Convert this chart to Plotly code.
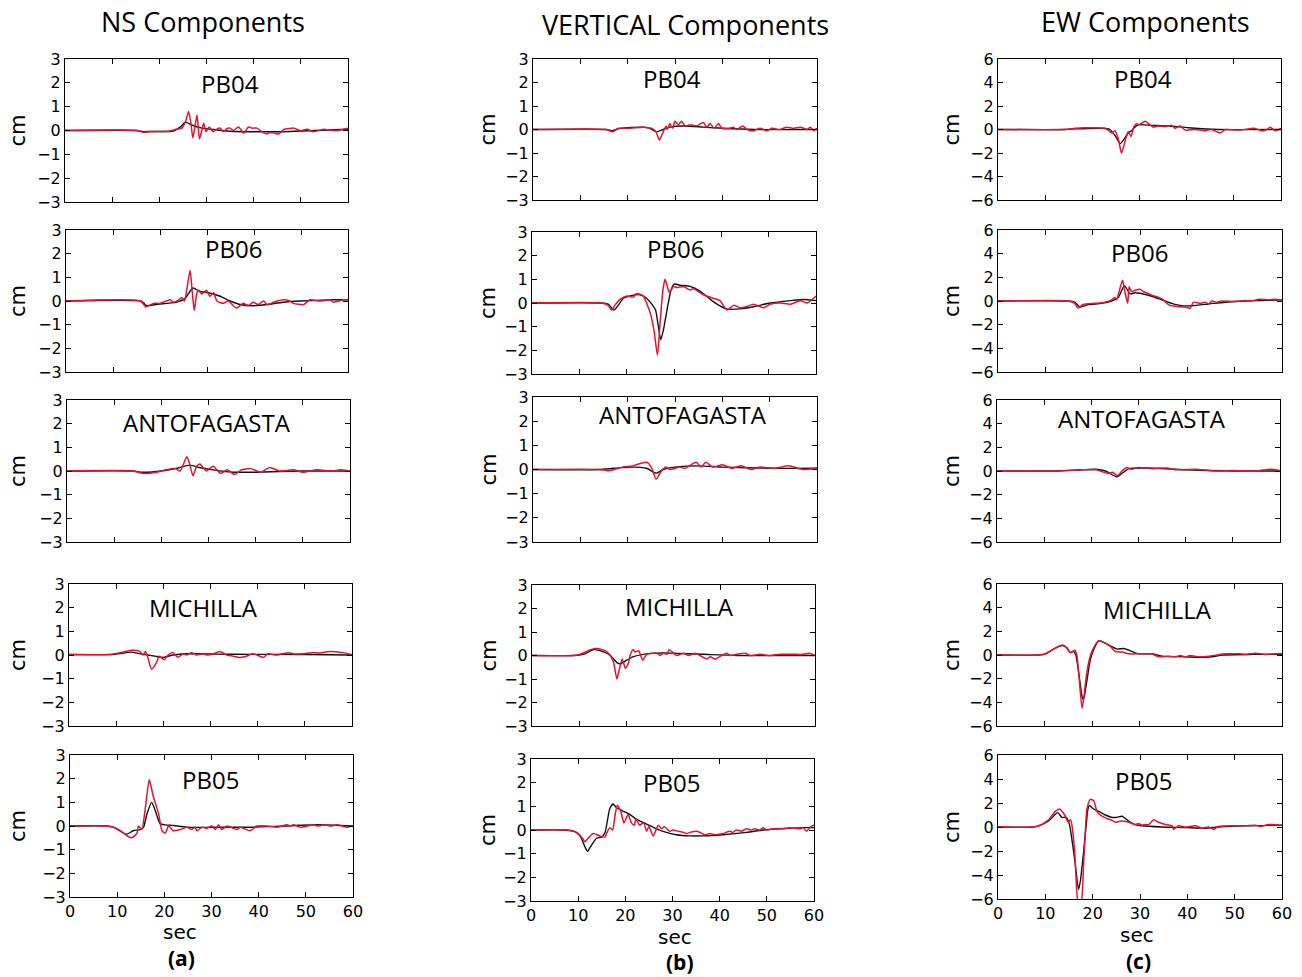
import plotly.graph_objects as go

W, H = 1302, 977
RED = '#e8112d'
BLACK = '#111111'

COMPONENTS = ['NS Components', 'VERTICAL Components', 'EW Components']
STATIONS = ['PB04', 'PB06', 'ANTOFAGASTA', 'MICHILLA', 'PB05']
PANEL_TAGS = ['(a)', '(b)', '(c)']
X_TICKS = [0, 10, 20, 30, 40, 50, 60]
Y_TICKS_SMALL = [-3, -2, -1, 0, 1, 2, 3]
Y_TICKS_EW = [-6, -4, -2, 0, 2, 4, 6]

# (time [sec], displacement [cm])

# ---- NS ----
NS_PB04_BLACK = [(0, 0), (15.2, 0), (16.6, -0.05), (18, -0.04), (23, -0.02), (24.5, 0.15), (25.5, 0.35),
                 (27, 0.22), (29, 0.1), (31.5, 0.04), (35, -0.03), (39, -0.05), (46, -0.05), (53, 0), (60, 0.05)]
NS_PB04_RED = [(0, 0), (15.2, 0), (16.6, -0.08), (18, -0.05), (22, -0.03), (23.5, 0.05), (24.8, 0.1), (25.6, 0.4),
               (26.2, 0.8), (26.7, 0.3), (27.1, -0.3), (27.5, 0.1), (28, 0.65), (28.5, -0.35), (29, 0.0), (29.4, 0.3),
               (29.9, -0.05), (30.6, 0.15), (31.4, -0.05), (32.1, 0.05), (32.9, 0.1), (33.6, -0.05), (34.3, 0.08),
               (35, 0.1), (35.7, 0.0), (36.8, 0.15), (37.9, -0.1), (38.9, 0.15), (39.7, 0.1), (40.7, 0.1),
               (41.7, -0.05), (42.8, -0.15), (43.5, -0.08), (44.2, -0.1), (45.3, -0.15), (46.4, 0.05), (47.5, 0.08),
               (48.5, 0.1), (49.9, 0.0), (51.3, 0.05), (52.7, -0.05), (54.9, 0.05), (56, 0.02), (57.7, 0.0),
               (59, 0.05), (60, 0.1)]
NS_PB06_BLACK = [(0, 0), (15.8, 0), (16.5, -0.08), (17.2, -0.2), (19, -0.15), (21.4, -0.1), (23.6, -0.05),
                 (25.3, 0.1), (27, 0.55), (28.5, 0.4), (30.3, 0.35), (32.8, 0.2), (34.9, 0.0), (37, -0.15),
                 (39.8, -0.2), (42.7, -0.15), (46.2, -0.05), (49.8, 0.0), (56.8, 0.05), (60, 0.05)]
NS_PB06_RED = [(0, 0), (15.8, 0), (17, -0.25), (18.6, -0.1), (20, -0.1), (21.4, 0.0), (22.1, 0.05), (22.9, -0.05),
               (24, 0.05), (24.6, 0.15), (25.2, 0.0), (25.8, 0.6), (26.4, 1.3), (26.9, 0.3), (27.3, -0.4),
               (27.8, 0.3), (28.2, 0.45), (28.9, 0.3), (29.9, 0.45), (30.6, 0.2), (31.4, 0.35), (32.1, 0.0),
               (33.5, -0.1), (34.5, 0.0), (35.6, -0.2), (36.3, -0.3), (37.7, -0.1), (38.8, -0.2), (39.8, -0.05),
               (40.9, -0.15), (42, 0.0), (42.8, -0.15), (44.2, -0.05), (46.2, 0.05), (47.6, 0.0), (48.4, -0.1),
               (50.6, -0.15), (51.9, 0.05), (54, 0.0), (56.1, 0.05), (56.9, -0.05), (59, 0.05), (60, 0.05)]
NS_ANTO_BLACK = [(0, 0), (14, 0), (16, -0.05), (20, 0.0), (23, 0.1), (26, 0.25), (28, 0.15), (31, 0.05),
                 (35, -0.05), (40, -0.05), (50, 0.0), (60, 0.0)]
NS_ANTO_RED = [(0, 0), (14, 0), (16, -0.1), (19, -0.05), (21, 0.05), (23, 0.1), (24, 0.0), (25.4, 0.6),
               (26, 0.3), (26.7, -0.2), (27.5, 0.2), (28.2, 0.3), (29.5, 0.0), (31, 0.2), (32.5, -0.1), (34, 0.05),
               (35.5, -0.15), (37, 0.05), (39, 0.1), (41, -0.05), (43, 0.15), (45, 0.0), (48, 0.05), (50, -0.05),
               (53, 0.05), (56, 0.0), (58, 0.05), (60, 0.0)]
NS_MICH_BLACK = [(0, 0.02), (9, 0.02), (11, 0.06), (13.1, 0.12), (15.2, 0.05), (18.2, -0.05), (20, -0.1),
                 (22.1, 0.0), (25, 0.05), (35, 0.03), (50, 0.02), (60, 0.0)]
NS_MICH_RED = [(0, 0.02), (8.7, 0.02), (10.8, 0.1), (13.3, 0.2), (15, 0.15), (15.7, 0.0), (16.2, 0.15),
               (16.7, -0.1), (17.5, -0.6), (18.6, -0.3), (19.1, -0.05), (20.2, -0.2), (21, 0.0), (22.1, 0.1),
               (23.1, -0.1), (24.2, 0.05), (24.9, 0.0), (26, 0.1), (27, 0.0), (28.4, 0.05), (29.2, 0.0),
               (30.6, 0.05), (32, 0.15), (33.4, 0.0), (34.8, -0.05), (35.9, -0.1), (37.6, -0.05), (39, 0.05),
               (41.2, -0.1), (42.2, 0.05), (44, 0.0), (46.4, 0.1), (47.5, 0.05), (49.6, 0.05), (51.4, 0.1),
               (53.1, 0.08), (55.3, 0.15), (58.1, 0.1), (60, 0.02)]
NS_PB05_BLACK = [(0, 0), (7.8, 0), (9.2, -0.05), (10.5, -0.2), (12, -0.35), (13.4, -0.2), (14.9, -0.15),
                 (15.6, -0.05), (16.3, 0.5), (17.3, 1.0), (18, 0.7), (19.1, 0.1), (20.2, 0.05), (22, 0.02),
                 (24.8, -0.05), (35, -0.05), (39, -0.05), (45.3, 0.0), (52.4, 0.05), (60, 0.0)]
NS_PB05_RED = [(0, 0), (7.8, 0), (9.9, -0.1), (12.4, -0.45), (13.1, -0.5), (14.2, -0.3), (14.5, 0.0),
               (15.2, -0.15), (16, 0.8), (16.8, 1.95), (17.6, 1.3), (18.8, 0.5), (19.5, -0.2), (20.2, -0.3),
               (20.9, 0.0), (21.9, -0.2), (23.4, -0.15), (24.8, -0.05), (25.8, -0.15), (26.5, -0.05), (26.9, -0.2),
               (28, -0.05), (29, -0.1), (30.1, 0.0), (30.8, -0.15), (31.5, 0.05), (32.2, -0.15), (33.3, 0.0),
               (35.4, -0.15), (36.1, -0.05), (38.2, -0.2), (39.6, 0.0), (41.8, 0.0), (43.9, -0.05), (46, 0.05),
               (46.7, 0.0), (47.4, 0.05), (48.8, -0.05), (51.7, 0.05), (52.4, 0.0), (54.1, 0.05), (55.2, 0.0),
               (56.6, 0.05), (58.7, -0.05), (60, 0.0)]

# ---- VERTICAL ----
UD_PB04_BLACK = [(0, 0), (15.5, 0), (16.8, -0.05), (18.4, 0.05), (23.3, 0.1), (24.7, 0.05), (26.1, -0.1),
                 (27.5, 0.0), (28.9, 0.1), (31.8, 0.15), (36, 0.1), (40.2, 0.05), (46.6, 0.0), (60, 0.0)]
UD_PB04_RED = [(0, 0), (15.5, 0), (16.8, -0.1), (18, 0.05), (20.5, 0.05), (23.3, 0.1), (25.1, 0.05), (26, -0.1),
               (26.7, -0.45), (27.4, -0.15), (28.1, 0.15), (28.4, 0.0), (28.9, 0.25), (29.5, 0.05), (30, 0.35),
               (30.7, 0.2), (31.4, 0.35), (32.1, 0.15), (33.2, 0.2), (34.6, 0.15), (36, 0.3), (36.7, 0.1),
               (37.4, 0.25), (38.3, 0.05), (39.2, 0.25), (39.9, 0.05), (41.6, 0.05), (42.3, 0.1), (43, 0.0),
               (44.3, 0.15), (45.2, 0.0), (46.6, -0.05), (48, 0.05), (49.4, -0.05), (50.5, 0.05), (52.2, 0.0),
               (53.6, 0.1), (55, 0.05), (56.5, 0.1), (57.9, 0.0), (58.6, 0.1), (59.3, -0.05), (60, 0.05)]
UD_PB06_BLACK = [(0, 0), (14.7, 0), (16.1, -0.05), (17.3, -0.3), (18.2, -0.1), (19.3, 0.2), (20.7, 0.3),
                 (22.8, 0.35), (24.2, 0.2), (25.3, -0.05), (26.1, -0.3), (26.7, -1.0), (27.2, -1.55), (27.7, -1.2),
                 (28.7, -0.1), (29.3, 0.5), (30, 0.8), (31.3, 0.75), (33.4, 0.7), (35.5, 0.5), (38, 0.1),
                 (39.5, -0.1), (41, -0.25), (44, -0.25), (47, -0.15), (50.3, 0.0), (54.6, 0.1), (57.4, 0.15),
                 (60, 0.1)]
UD_PB06_RED = [(0, 0), (14.7, 0), (16.1, -0.1), (16.8, -0.3), (17.5, -0.1), (18.6, 0.15), (20, 0.3), (21.4, 0.25),
               (22.1, 0.4), (23.5, 0.3), (24.2, 0.0), (25.1, -0.5), (25.8, -1.2), (26.5, -2.2), (27, -1.0),
               (27.4, 0.0), (27.7, 0.6), (28.1, 1.0), (28.6, 0.7), (29, 0.45), (29.9, 0.7), (30.6, 0.65),
               (32, 0.7), (33.4, 0.55), (34.1, 0.6), (36.2, 0.35), (38.3, 0.2), (39.7, 0.1), (41.2, -0.3),
               (42.6, -0.1), (44, -0.2), (45.4, -0.15), (46.8, -0.05), (48.9, -0.2), (50.3, -0.05), (52.5, 0.0),
               (54.6, -0.05), (56.7, 0.1), (58.1, 0.0), (59.5, 0.2), (60, 0.3)]
UD_ANTO_BLACK = [(0, 0), (14, 0), (17, 0.05), (21, 0.1), (24, 0.05), (26, -0.15), (27.5, 0.0), (30, 0.1),
                 (35, 0.15), (40, 0.1), (50, 0.05), (60, 0.05)]
UD_ANTO_RED = [(0, 0), (14, 0), (16, -0.05), (19, 0.1), (21, 0.15), (24, 0.3), (25, 0.1), (26, -0.4), (27, -0.1),
               (28, 0.1), (29, 0.0), (31, 0.1), (32, 0.05), (34.5, 0.3), (35.5, 0.1), (36.5, 0.3), (38, 0.1),
               (40, 0.2), (42, 0.05), (44, 0.15), (46, 0.0), (48, 0.1), (51, 0.05), (54, 0.15), (57, 0.0),
               (60, 0.05)]
UD_MICH_BLACK = [(0, 0), (8.8, 0), (10.9, 0.05), (13.1, 0.25), (15.2, 0.15), (16.6, 0.0), (18, -0.3),
                 (18.7, -0.35), (20.1, -0.2), (21.5, -0.05), (23.6, 0.05), (26.5, 0.1), (29.3, 0.1), (36.3, 0.05),
                 (43.4, 0.0), (60, 0.0)]
UD_MICH_RED = [(0, 0), (8.8, 0), (10.2, 0.05), (12.4, 0.25), (13.8, 0.3), (15.6, 0.2), (16.6, 0.0), (17.3, -0.3),
               (18, -1.0), (18.5, -0.6), (19.1, -0.15), (19.4, -0.3), (19.8, -0.55), (20.5, -0.3), (20.8, 0.0),
               (21.4, 0.25), (21.9, 0.15), (22.6, 0.2), (23.5, -0.2), (24.3, 0.05), (26.5, 0.1), (27.2, 0.0),
               (27.9, 0.1), (28.6, 0.05), (29.1, 0.25), (30.7, 0.0), (32.1, 0.1), (33.2, 0.0), (34.6, 0.1),
               (35.6, 0.0), (37.1, -0.15), (37.8, -0.05), (38.8, -0.15), (40.2, 0.0), (41.3, 0.1), (42, 0.0),
               (43.4, 0.05), (45.2, 0.1), (46.2, 0.0), (48.3, 0.05), (50.5, 0.0), (52.6, 0.05), (55.4, 0.05),
               (57.5, 0.05), (58.9, 0.1), (60, 0.0)]
UD_PB05_BLACK = [(0, 0), (6.8, 0), (9, -0.05), (10.4, -0.25), (11.4, -0.7), (12, -0.9), (12.8, -0.65),
                 (13.9, -0.35), (15, -0.3), (15.7, -0.1), (16.2, 0.4), (16.7, 0.9), (17.4, 1.1), (18.1, 0.95),
                 (19.5, 0.8), (21, 0.65), (22.4, 0.45), (24.5, 0.25), (26.6, 0.05), (28.7, -0.1), (30.8, -0.2),
                 (33.7, -0.25), (36.5, -0.25), (40.7, -0.2), (45.7, -0.1), (49.2, 0.0), (52.7, 0.05),
                 (57.7, 0.1), (60, 0.1)]
UD_PB05_RED = [(0, 0), (7.6, 0), (9.7, -0.1), (11.1, -0.4), (11.4, -0.5), (11.9, -0.4), (12.8, -0.2),
               (13.3, -0.15), (14.6, -0.25), (15.7, -0.3), (16, -0.15), (16.7, 0.1), (17.3, 0.0), (17.8, 0.6),
               (18.3, 1.05), (19, 0.8), (19.7, 0.3), (20.3, 0.55), (20.6, 0.65), (21.3, 0.3), (21.9, 0.2),
               (22.2, 0.45), (23.1, 0.2), (23.4, 0.25), (23.9, 0.3), (24.5, -0.05), (25, 0.15), (25.9, -0.25),
               (27, 0.2), (27.7, 0.05), (28.2, 0.15), (29.4, -0.05), (30.1, 0.0), (31.2, -0.05), (32.3, -0.1),
               (33, -0.15), (33.7, -0.1), (35.1, -0.05), (35.8, -0.1), (36.8, -0.2), (37.9, -0.15), (39.3, -0.2),
               (40.7, -0.15), (42.1, -0.05), (42.8, -0.1), (43.5, 0.0), (44.6, -0.05), (45.7, 0.05), (46.7, 0.0),
               (47.4, 0.05), (48.5, 0.0), (49.2, 0.1), (49.9, 0.0), (51.3, 0.05), (53.4, 0.05), (54.8, 0.1),
               (57, 0.05), (57.7, 0.1), (58.4, -0.05), (59.4, 0.15), (60, 0.2)]

# ---- EW ----
EW_PB04_BLACK = [(0, 0), (14.2, 0), (16.3, 0.05), (22, 0.1), (23.7, 0.0), (24.8, -0.5), (25.9, -1.2), (26.6, -0.9),
                 (27.6, -0.3), (28.3, -0.1), (29, 0.2), (29.7, 0.4), (32.6, 0.35), (36.1, 0.3), (40.4, 0.15),
                 (46.7, 0.0), (60, 0.0)]
EW_PB04_RED = [(0, 0), (14.2, 0), (16.3, 0.1), (18.4, 0.15), (22.7, 0.1), (23.4, -0.05), (24.1, -0.3),
               (24.8, -0.1), (25.5, -0.8), (26.2, -2.0), (26.8, -1.2), (27.3, -0.5), (27.6, -0.2), (28.2, -0.6),
               (28.5, -0.2), (28.9, 0.3), (29.4, 0.5), (29.9, 0.4), (31.2, 0.7), (32.2, 0.4), (32.9, 0.2),
               (34, 0.3), (35.4, 0.25), (36.8, 0.35), (37.5, 0.1), (38.6, 0.3), (39.7, -0.05), (41.8, 0.0),
               (43.9, -0.1), (45.3, 0.0), (47.1, -0.3), (48.2, 0.0), (50.3, -0.05), (52.4, 0.0), (54.2, 0.1),
               (56, -0.1), (57, 0.0), (57.7, 0.2), (58.8, -0.1), (60, 0.1)]
EW_PB06_BLACK = [(0, 0), (14.8, 0), (16.2, -0.1), (17.3, -0.5), (19.1, -0.3), (21.9, -0.2), (24, 0.0),
                 (25.4, 0.3), (26.7, 1.3), (27.9, 0.6), (28.9, 0.7), (30, 0.65), (32.5, 0.4), (34.6, 0.1),
                 (36.7, -0.2), (38.8, -0.4), (40.9, -0.4), (44.5, -0.25), (48, -0.1), (52.2, 0.0), (57.2, 0.05),
                 (60, 0.1)]
EW_PB06_RED = [(0, 0), (14.8, 0), (16.2, -0.2), (16.9, -0.6), (18, -0.3), (20.5, -0.2), (22.6, -0.1), (24, 0.1),
               (24.7, 0.3), (25.1, 0.1), (25.4, 0.5), (26.3, 1.75), (26.8, 0.8), (27.4, -0.2), (27.7, 1.2),
               (28.2, 0.8), (28.9, 0.9), (30, 1.0), (30.7, 0.8), (32.5, 0.5), (34.6, 0.2), (36, -0.3),
               (37.4, -0.45), (39.5, -0.5), (40.6, -0.6), (41.3, -0.1), (42.7, -0.2), (43.8, -0.1), (44.5, -0.25),
               (45.2, 0.0), (46.2, -0.1), (47.3, 0.0), (50.1, -0.05), (52.2, 0.05), (53.6, 0.0), (55.1, 0.15),
               (57.2, 0.1), (58.6, 0.15), (60, 0.1)]
EW_ANTO_BLACK = [(0, 0), (13, 0), (18, 0.1), (21, 0.15), (23, 0.0), (25.4, -0.5), (26.5, -0.2), (28, 0.2),
                 (32, 0.25), (40, 0.1), (50, 0.0), (60, 0.0)]
EW_ANTO_RED = [(0, 0), (13, 0), (18, 0.1), (21, 0.1), (23.5, -0.2), (24.5, -0.1), (25.5, -0.4), (26.5, 0.0),
               (27.5, 0.3), (28.5, 0.15), (30, 0.3), (33, 0.2), (36, 0.25), (38, 0.1), (42, 0.15), (46, 0.0),
               (50, 0.05), (55, 0.0), (58, 0.15), (60, 0.05)]
EW_MICH_BLACK = [(0, 0), (8.8, 0), (10.2, 0.1), (11.9, 0.5), (13.7, 0.8), (14.7, 0.6), (15.4, 0.2), (16.1, 0.3),
                 (16.6, 0.0), (17.2, -1.5), (17.9, -3.5), (18.2, -3.8), (18.8, -2.5), (19.6, -0.5), (20.4, 0.5),
                 (21.4, 1.2), (22.8, 1.0), (24.2, 0.7), (25.3, 0.5), (26.7, 0.55), (28.4, 0.3), (29.8, 0.1),
                 (32.6, 0.1), (34.7, -0.1), (39.6, -0.15), (42.5, -0.2), (45.3, -0.15), (47.4, 0.0), (53.7, 0.05),
                 (60, 0.05)]
EW_MICH_RED = [(0, 0), (8.8, 0), (10.2, 0.1), (11.9, 0.5), (13.8, 0.85), (14.7, 0.6), (15.4, 0.2), (16.4, 0.4),
               (16.8, 0.0), (17.3, -2.0), (17.9, -4.5), (18.3, -3.5), (18.9, -1.5), (19.7, 0.0), (20.6, 0.8),
               (21.4, 1.2), (22.8, 1.0), (23.9, 0.7), (24.9, 0.3), (26.3, 0.25), (27.7, 0.1), (30.5, 0.1),
               (32.6, 0.1), (34, -0.15), (36.1, -0.1), (37.5, -0.15), (38.6, -0.05), (39.6, -0.15), (40.7, -0.05),
               (42.5, -0.15), (44.6, -0.1), (46.3, 0.0), (48.1, 0.1), (50.9, 0.1), (52.3, 0.05), (54.4, 0.15),
               (56.5, 0.05), (58.6, 0.1), (60, 0.1)]
EW_PB05_BLACK = [(0, 0), (7.2, 0), (8.6, 0.1), (10.7, 0.5), (12.6, 1.2), (13.5, 0.8), (14.4, 0.8), (15.1, 0.2),
                 (15.6, -1.0), (16.3, -3.0), (17, -5.2), (17.4, -4.5), (18.1, -2.0), (18.6, 0.0), (19, 1.5),
                 (19.3, 1.8), (20.2, 1.5), (21.3, 1.3), (22.7, 1.0), (24.1, 0.8), (25.1, 0.8), (26.2, 0.9),
                 (27.6, 0.5), (29, 0.2), (30.4, 0.1), (34.6, 0.0), (39.6, -0.05), (43.8, -0.1), (46.6, 0.0),
                 (52.3, 0.1), (60, 0.15)]
EW_PB05_RED = [(0, 0), (7.2, 0), (8.6, 0.1), (10.7, 0.6), (12.1, 1.3), (13, 1.5), (14.1, 1.0), (14.8, 0.4),
               (15.3, 0.6), (15.6, 0.2), (16.2, -2.0), (17, -6.5), (17.5, -6.5), (18.1, -3.0), (18.5, 0.0),
               (18.8, 1.5), (19.5, 2.3), (20.2, 2.2), (20.9, 1.3), (21.6, 1.0), (23, 0.7), (24.1, 0.55),
               (24.8, 0.4), (26.2, 0.5), (27.6, 0.4), (29, 0.2), (29.7, 0.3), (30.4, 0.15), (31.1, 0.2),
               (31.8, 0.2), (32.9, 0.6), (33.9, 0.4), (35.4, 0.2), (36.8, 0.1), (37.1, -0.2), (38.2, 0.1),
               (39.6, 0.0), (41.7, 0.1), (43.1, -0.1), (44.5, 0.0), (45.6, -0.2), (46.6, 0.05), (50.1, 0.1),
               (52.3, 0.1), (54.4, 0.15), (55.4, 0.05), (57.2, 0.2), (60, 0.15)]

TRACES = [
    [(NS_PB04_BLACK, NS_PB04_RED), (NS_PB06_BLACK, NS_PB06_RED), (NS_ANTO_BLACK, NS_ANTO_RED),
     (NS_MICH_BLACK, NS_MICH_RED), (NS_PB05_BLACK, NS_PB05_RED)],
    [(UD_PB04_BLACK, UD_PB04_RED), (UD_PB06_BLACK, UD_PB06_RED), (UD_ANTO_BLACK, UD_ANTO_RED),
     (UD_MICH_BLACK, UD_MICH_RED), (UD_PB05_BLACK, UD_PB05_RED)],
    [(EW_PB04_BLACK, EW_PB04_RED), (EW_PB06_BLACK, EW_PB06_RED), (EW_ANTO_BLACK, EW_ANTO_RED),
     (EW_MICH_BLACK, EW_MICH_RED), (EW_PB05_BLACK, EW_PB05_RED)],
]

# layout in pixels: panel boxes (left, top, right, bottom) per column
BOXES = [
    [(65, 59, 348, 202), (66, 230, 348, 372), (67, 400, 350, 542), (69, 584, 352, 726), (70, 755, 353, 897)],
    [(533, 59, 817, 200), (532, 232, 816, 374), (533, 397, 817, 542), (532, 585, 815, 726), (531, 759, 814, 901)],
    [(998, 59, 1281, 200), (998, 230, 1282, 372), (997, 400, 1280, 542), (997, 584, 1282, 726), (998, 755, 1282, 899)],
]
STATION_POS = [
    [(230, 83), (233, 248), (207, 422), (204, 607), (210, 779)],
    [(672, 78), (675, 248), (683, 415), (679, 606), (671, 782)],
    [(1143, 78), (1139, 253), (1142, 419), (1157, 609), (1143, 780)],
]
TITLE_POS = [(203, 22), (685, 25), (1145, 22)]
CM_X = [18, 488, 952]
SEC_POS = [(180, 932), (675, 937), (1137, 935)]
TAG_POS = [(181, 958), (680, 962), (1138, 961)]

TICK_FONT = dict(family='DejaVu Sans', size=16, color='black')
LABEL_FONT = 'Open Sans'


def px(x, y):
    return x / W, 1 - y / H


fig = go.Figure()
annotations = []
axes = {}

for c in range(3):
    for r in range(5):
        k = c * 5 + r + 1
        sfx = '' if k == 1 else str(k)
        l, t, rr, b = BOXES[c][r]
        black, red = TRACES[c][r]
        for pts, col, w in ((black, BLACK, 1.4), (red, RED, 1.5)):
            fig.add_trace(go.Scatter(
                x=[p[0] for p in pts], y=[p[1] for p in pts], mode='lines',
                line=dict(color=col, width=w, shape='spline', smoothing=0.6),
                xaxis='x' + sfx, yaxis='y' + sfx, showlegend=False, hoverinfo='skip'))

        yt = Y_TICKS_EW if c == 2 else Y_TICKS_SMALL
        axes['xaxis' + sfx] = dict(
            domain=[l / W, rr / W], anchor='y' + sfx, range=[0, 60], tickvals=X_TICKS,
            ticks='inside', ticklen=5, tickwidth=1, tickcolor='black', mirror='ticks',
            showline=True, linecolor='black', linewidth=1, showgrid=False, zeroline=False,
            showticklabels=(r == 4), tickfont=TICK_FONT, automargin=False)
        axes['yaxis' + sfx] = dict(
            domain=[1 - b / H, 1 - t / H], anchor='x' + sfx, range=[yt[0], yt[-1]], tickvals=yt,
            ticks='inside', ticklen=5, tickwidth=1, tickcolor='black', mirror='ticks',
            showline=True, linecolor='black', linewidth=1, showgrid=False, zeroline=False,
            tickfont=TICK_FONT, automargin=False)

        sx, sy = px(*STATION_POS[c][r])
        annotations.append(dict(x=sx, y=sy, xref='paper', yref='paper', text=STATIONS[r], showarrow=False,
                                xanchor='center', yanchor='middle',
                                font=dict(family=LABEL_FONT, size=24, color='black')))
        cx, cy = px(CM_X[c], (t + b) / 2)
        annotations.append(dict(x=cx, y=cy, xref='paper', yref='paper', text='cm', showarrow=False,
                                textangle=-90, xanchor='center', yanchor='middle',
                                font=dict(family='DejaVu Sans', size=21, color='black')))

    tx, ty = px(*TITLE_POS[c])
    annotations.append(dict(x=tx, y=ty, xref='paper', yref='paper', text=COMPONENTS[c], showarrow=False,
                            xanchor='center', yanchor='middle',
                            font=dict(family=LABEL_FONT, size=27, color='black')))
    sx, sy = px(*SEC_POS[c])
    annotations.append(dict(x=sx, y=sy, xref='paper', yref='paper', text='sec', showarrow=False,
                            xanchor='center', yanchor='middle',
                            font=dict(family='DejaVu Sans', size=20, color='black')))
    gx, gy = px(*TAG_POS[c])
    annotations.append(dict(x=gx, y=gy, xref='paper', yref='paper', text='<b>' + PANEL_TAGS[c] + '</b>',
                            showarrow=False, xanchor='center', yanchor='middle',
                            font=dict(family=LABEL_FONT, size=21, color='black')))

fig.update_layout(
    width=W, height=H, margin=dict(l=0, r=0, t=0, b=0, autoexpand=False),
    paper_bgcolor='white', plot_bgcolor='white',
    annotations=annotations, **axes)

# the page's default body margin would push the figure off the window
fig.write_html("out.html", config={'displayModeBar': False},
               post_script="document.body.style.margin='0';document.body.style.overflow='hidden';")
